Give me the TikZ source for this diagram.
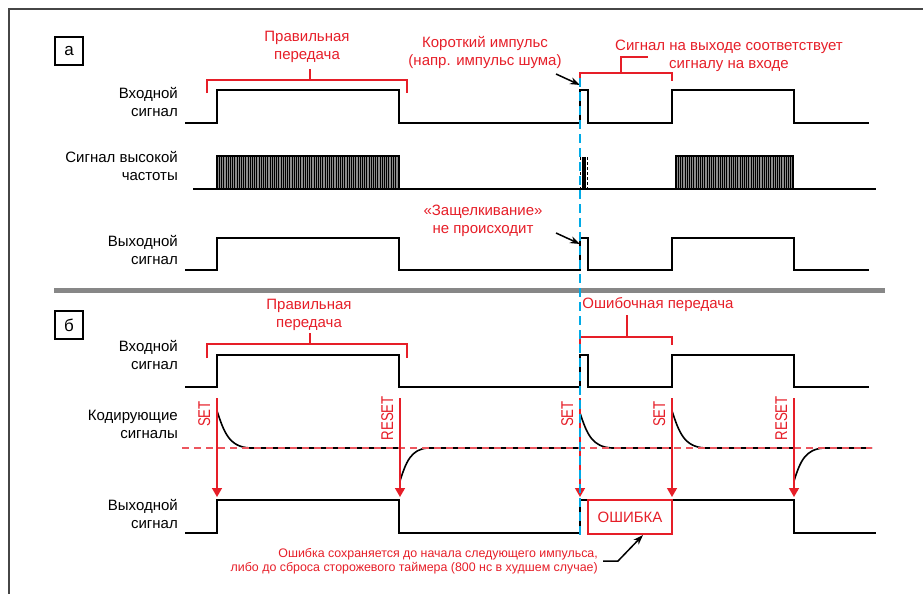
\documentclass[tikz,border=0pt]{standalone}
\usepackage{fontspec}
\setmainfont{Liberation Sans}
\usepackage{graphicx}
\usepackage{xcolor}
\usetikzlibrary{arrows.meta}
\definecolor{errred}{RGB}{230,30,40}
\definecolor{cutblue}{RGB}{0,170,230}
\definecolor{framegray}{RGB}{70,70,70}
\definecolor{sepgray}{RGB}{135,135,135}

\begin{document}
\begin{tikzpicture}[x=1pt,y=-1pt]
		\tikzstyle{lbl}=[font=\fontsize{15}{18}\selectfont,align=right,anchor=east,inner sep=0pt]
		\tikzstyle{remark}=[font=\fontsize{15}{18}\selectfont,text=errred,align=center,inner sep=0pt]
		\tikzstyle{sig}=[line width=2pt,line join=miter]
		\tikzstyle{brk}=[errred,line width=1.2pt]
		\tikzstyle{ptr}=[-{Stealth[length=10pt,width=7pt]},line width=1.5pt]
		\tikzstyle{setarr}=[errred,line width=1.4pt,-{Triangle[length=9pt,width=10pt]}]
		\tikzstyle{tag}=[text=errred,rotate=90,anchor=base east,inner sep=0pt,font=\fontsize{17}{17}\selectfont]
		\tikzstyle{panel}=[draw,line width=1.4pt,minimum size=28pt,inner sep=0pt,font=\fontsize{17}{17}\selectfont]
		\tikzstyle{burst}=[draw,fill=black!45,line width=1.6pt]
		\useasboundingbox (0,0) rectangle (923,594);
		\draw[framegray,line width=1.5pt] (923,9) -- (9,9) -- (9,594);
		\draw[sepgray,line width=5pt] (54,290) -- (885,290);
		% panel a
		\node[panel] (boxA) at (69,51) {а};
		\node[lbl] (inA) at (178,102) {Входной\\сигнал};
		\node[lbl] (hfA) at (178,166) {Сигнал высокой\\частоты};
		\node[lbl] (outA) at (178,250) {Выходной\\сигнал};
		\node[remark] (okA) at (307,47) {Правильная\\передача};
		\node[remark] (shortA) at (485,52) {Короткий импульс\\(напр. импульс шума)};
		\node[remark] (matchA) at (729,56) {Сигнал на выходе соответствует\\сигналу на входе};
		\node[remark] (latchA) at (483,221) {«Защелкивание»\\не происходит};
		\draw[brk] (207,93) |- (407,80) -- (407,93) (310,80) -- (310,69);
		\draw[brk] (580,81) |- (672,73) -- (672,81) (621,73) -- (621,57) -- (648,57);
		\draw[sig] (185,123) -| (217,90) -| (399,123) -| (580,90) -| (588,123) -| (672,90) -| (794,123) -- (869,123);
		\draw[sig] (193,189) -- (876,189);
		\draw[burst] (217,156) rectangle (399,189);
		\foreach \x in {219.5,221.7,...,397} \draw[line width=0.9pt] (\x,157) -- (\x,188);
		\draw[burst] (676,156) rectangle (793,189);
		\foreach \x in {678.5,680.7,...,791} \draw[line width=0.9pt] (\x,157) -- (\x,188);
		\draw[line width=1.2pt] (583,157) -- (583,189) (585,157) -- (585,189);
		\draw[line width=1.6pt,dash pattern=on 3pt off 2pt] (587.5,157) -- (587.5,189) (580.5,157) -- (580.5,189);
		\draw[sig] (185,270) -| (217,238) -| (399,270) -| (580,238) -| (588,270) -| (672,238) -| (794,270) -- (869,270);
		\coordinate (shortFrom) at (556,74);
		\coordinate (shortTo) at (580,85);
		\coordinate (latchFrom) at (556,233);
		\coordinate (latchTo) at (580,244);
		\draw[ptr] (shortFrom) -- (shortTo);
		\draw[ptr] (latchFrom) -- (latchTo);
		% panel b
		\node[panel] (boxB) at (69,325) {б};
		\node[lbl] (inB) at (178,355) {Входной\\сигнал};
		\node[lbl] (codeB) at (178,424) {Кодирующие\\сигналы};
		\node[lbl] (outB) at (178,514) {Выходной\\сигнал};
		\node[remark] (okB) at (309,315) {Правильная\\передача};
		\node[remark] (errB) at (658,305) {Ошибочная передача};
		\draw[brk] (207,358) |- (407,344) -- (407,358) (310,344) -- (310,333);
		\draw[brk] (580,345) |- (672,337) -- (672,345) (627,337) -- (627,315);
		\draw[sig] (185,387) -| (217,355) -| (399,387) -| (580,355) -| (588,387) -| (672,355) -| (794,387) -- (869,387);
		\draw[line width=1.6pt] (217,448) -- (217,411) .. controls (224,432) and (229,447) .. (250,448) -- (400,448) -- (400,481) .. controls (406,462) and (411,449) .. (428,448) -- (580,448) -- (580,413) .. controls (587,434) and (592,447) .. (612,448) -- (672,448) -- (672,411) .. controls (679,432) and (684,447) .. (705,448) -- (794,448) -- (794,481) .. controls (800,462) and (805,449) .. (824,448) -- (872,448);
		\draw[errred!75,line width=1.4pt,dash pattern=on 7pt off 5pt] (182,448) -- (872,448);
		\foreach \x/\t/\y in {217/SET/401,400/RESET/396,580/SET/401,672/SET/401,794/RESET/396}{
			\node[tag] (t\x) at (\x-7,\y) {\scalebox{0.78}[1]{\t}};
			\coordinate (s\x) at (\x,398);
			\coordinate (e\x) at (\x,497);
			\draw[setarr] (s\x) -- (e\x);
		}
		\draw[sig] (185,533) -| (217,500) -| (399,533) -| (580,500) -| (794,533) -- (876,533);
		\node[draw=errred,line width=1.4pt,fill=white,text=errred,minimum width=84pt,minimum height=34pt,inner sep=0pt,font=\fontsize{15}{15}\selectfont] (err) at (630,517) {ОШИБКА};
		\node[remark,font=\fontsize{12.4}{14}\selectfont,align=right,anchor=east] (note) at (598,561) {Ошибка сохраняется до начала следующего импульса,\\либо до сброса сторожевого таймера (800 нс в худшем случае)};
		\coordinate (kink) at (618,561);
		\coordinate (errTip) at (643,535);
		\draw[ptr] ([xshift=5pt]note.east) -- (kink) -- (errTip);
		\draw[cutblue,line width=2.2pt,dash pattern=on 9pt off 5pt] (580,78) -- (580,535);
	\end{tikzpicture}
\end{document}
